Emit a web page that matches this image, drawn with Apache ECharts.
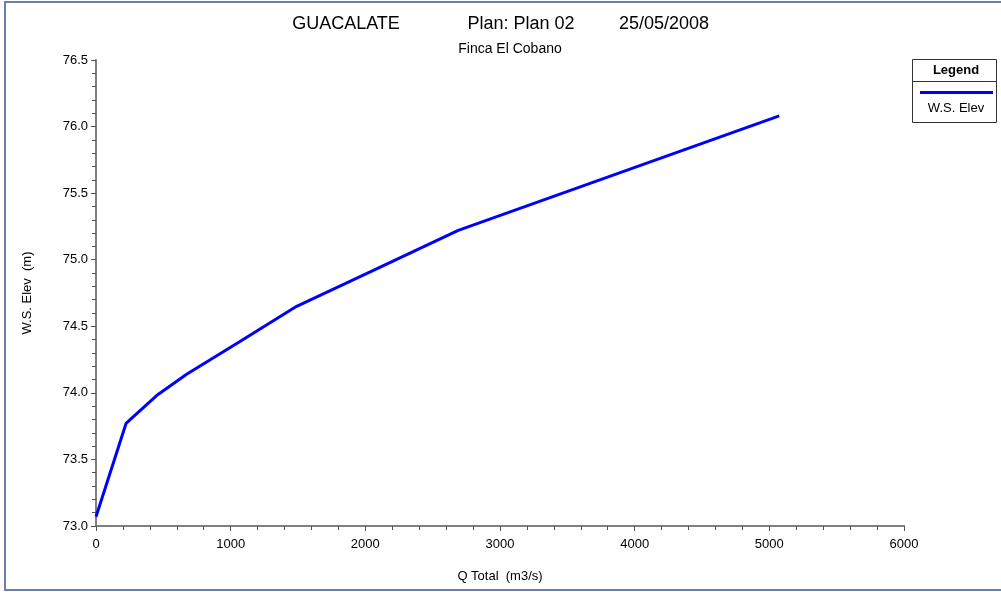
<!DOCTYPE html>
<html>
<head>
<meta charset="utf-8">
<script src="https://cdn.jsdelivr.net/npm/echarts@6/dist/echarts.min.js"></script>
<style>
  html, body { margin: 0; padding: 0; background: #fff; }
  #chart { width: 1001px; height: 592px; }
</style>
</head>
<body>
<div id="chart"></div>
<script>
// flow vs water surface elevation
let qTotal = [0, 223, 450, 673, 1060, 1490, 2040, 2690, 5074];
let wsElev = [73.07, 73.77, 73.98, 74.14, 74.38, 74.65, 74.91, 75.22, 76.08];

let seriesName = 'W.S. Elev';
let font = 'Arial, "Liberation Sans", sans-serif';

let points = [];
for (let i = 0; i < qTotal.length; i++) {
    points.push([qTotal[i], wsElev[i]]);
}

let myChart = echarts.init(document.querySelector('#chart'));

let titleStyle = { fontFamily: font, fontSize: 18, fontWeight: 'normal', color: '#000' };

let option = {
    animation: false,
    title: [
        { text: 'GUACALATE', left: 341, top: 10, textAlign: 'center', textStyle: titleStyle },
        { text: 'Plan: Plan 02', left: 516, top: 10, textAlign: 'center', textStyle: titleStyle },
        { text: '25/05/2008', left: 659, top: 10, textAlign: 'center', textStyle: titleStyle },
        {
            text: 'Finca El Cobano',
            left: 505, top: 37, textAlign: 'center',
            textStyle: { fontFamily: font, fontSize: 14, fontWeight: 'normal', color: '#000' }
        }
    ],
    grid: { left: 96, right: 97, top: 60, bottom: 66 },
    xAxis: {
        type: 'value',
        min: 0, max: 6000, interval: 1000,
        name: 'Q Total  (m3/s)',
        nameLocation: 'middle', nameGap: 44,
        nameTextStyle: { fontFamily: font, fontSize: 13, color: '#000' },
        axisLine: { lineStyle: { color: '#808080', width: 2 } },
        axisTick: { length: 5, lineStyle: { color: '#555' } },
        minorTick: { show: true, splitNumber: 5, length: 4, lineStyle: { color: '#555' } },
        axisLabel: {
            fontFamily: font, fontSize: 13, color: '#000', margin: 12,
            formatter: (v) => String(v)
        },
        splitLine: { show: false }
    },
    yAxis: {
        type: 'value',
        min: 73, max: 76.5, interval: 0.5,
        name: 'W.S. Elev  (m)',
        nameLocation: 'middle', nameGap: 62,
        nameTextStyle: { fontFamily: font, fontSize: 13, color: '#000' },
        axisLine: { show: true, lineStyle: { color: '#808080', width: 2 } },
        axisTick: { show: true, length: 5, lineStyle: { color: '#555' } },
        minorTick: { show: true, splitNumber: 5, length: 4, lineStyle: { color: '#555' } },
        axisLabel: {
            fontFamily: font, fontSize: 13, color: '#000', margin: 8,
            formatter: (v) => v.toFixed(1)
        },
        splitLine: { show: false }
    },
    legend: {
        data: [seriesName],
        left: 915, top: 86,
        itemWidth: 73, itemHeight: 3,
        icon: 'rect',
        formatter: () => '',
        itemGap: 0
    },
    graphic: [
        // outer frame
        {
            type: 'polyline', silent: true,
            shape: { points: [[1001, 2], [5, 2], [5, 590], [1001, 590]] },
            style: { stroke: '#6f7ea8', lineWidth: 2, fill: null }
        },
        // legend box
        {
            type: 'rect', silent: true,
            shape: { x: 912.5, y: 59.5, width: 84, height: 63 },
            style: { stroke: '#333', lineWidth: 1, fill: '#fff' }, z: 0
        },
        {
            type: 'line', silent: true,
            shape: { x1: 912.5, y1: 81.5, x2: 996.5, y2: 81.5 },
            style: { stroke: '#333', lineWidth: 1 }
        },
        {
            type: 'text', silent: true,
            style: {
                x: 956, y: 70, text: 'Legend', align: 'center', verticalAlign: 'middle',
                font: 'bold 13px ' + font, fill: '#000'
            }
        },
        {
            type: 'text', silent: true,
            style: {
                x: 956, y: 108, text: seriesName, align: 'center', verticalAlign: 'middle',
                font: '13px ' + font, fill: '#000'
            }
        }
    ],
    series: [
        {
            name: seriesName,
            type: 'line',
            data: points,
            showSymbol: false,
            lineStyle: { color: '#0000ff', width: 3 },
            itemStyle: { color: '#0000ff' }
        }
    ]
};

myChart.setOption(option);
</script>
</body>
</html>
